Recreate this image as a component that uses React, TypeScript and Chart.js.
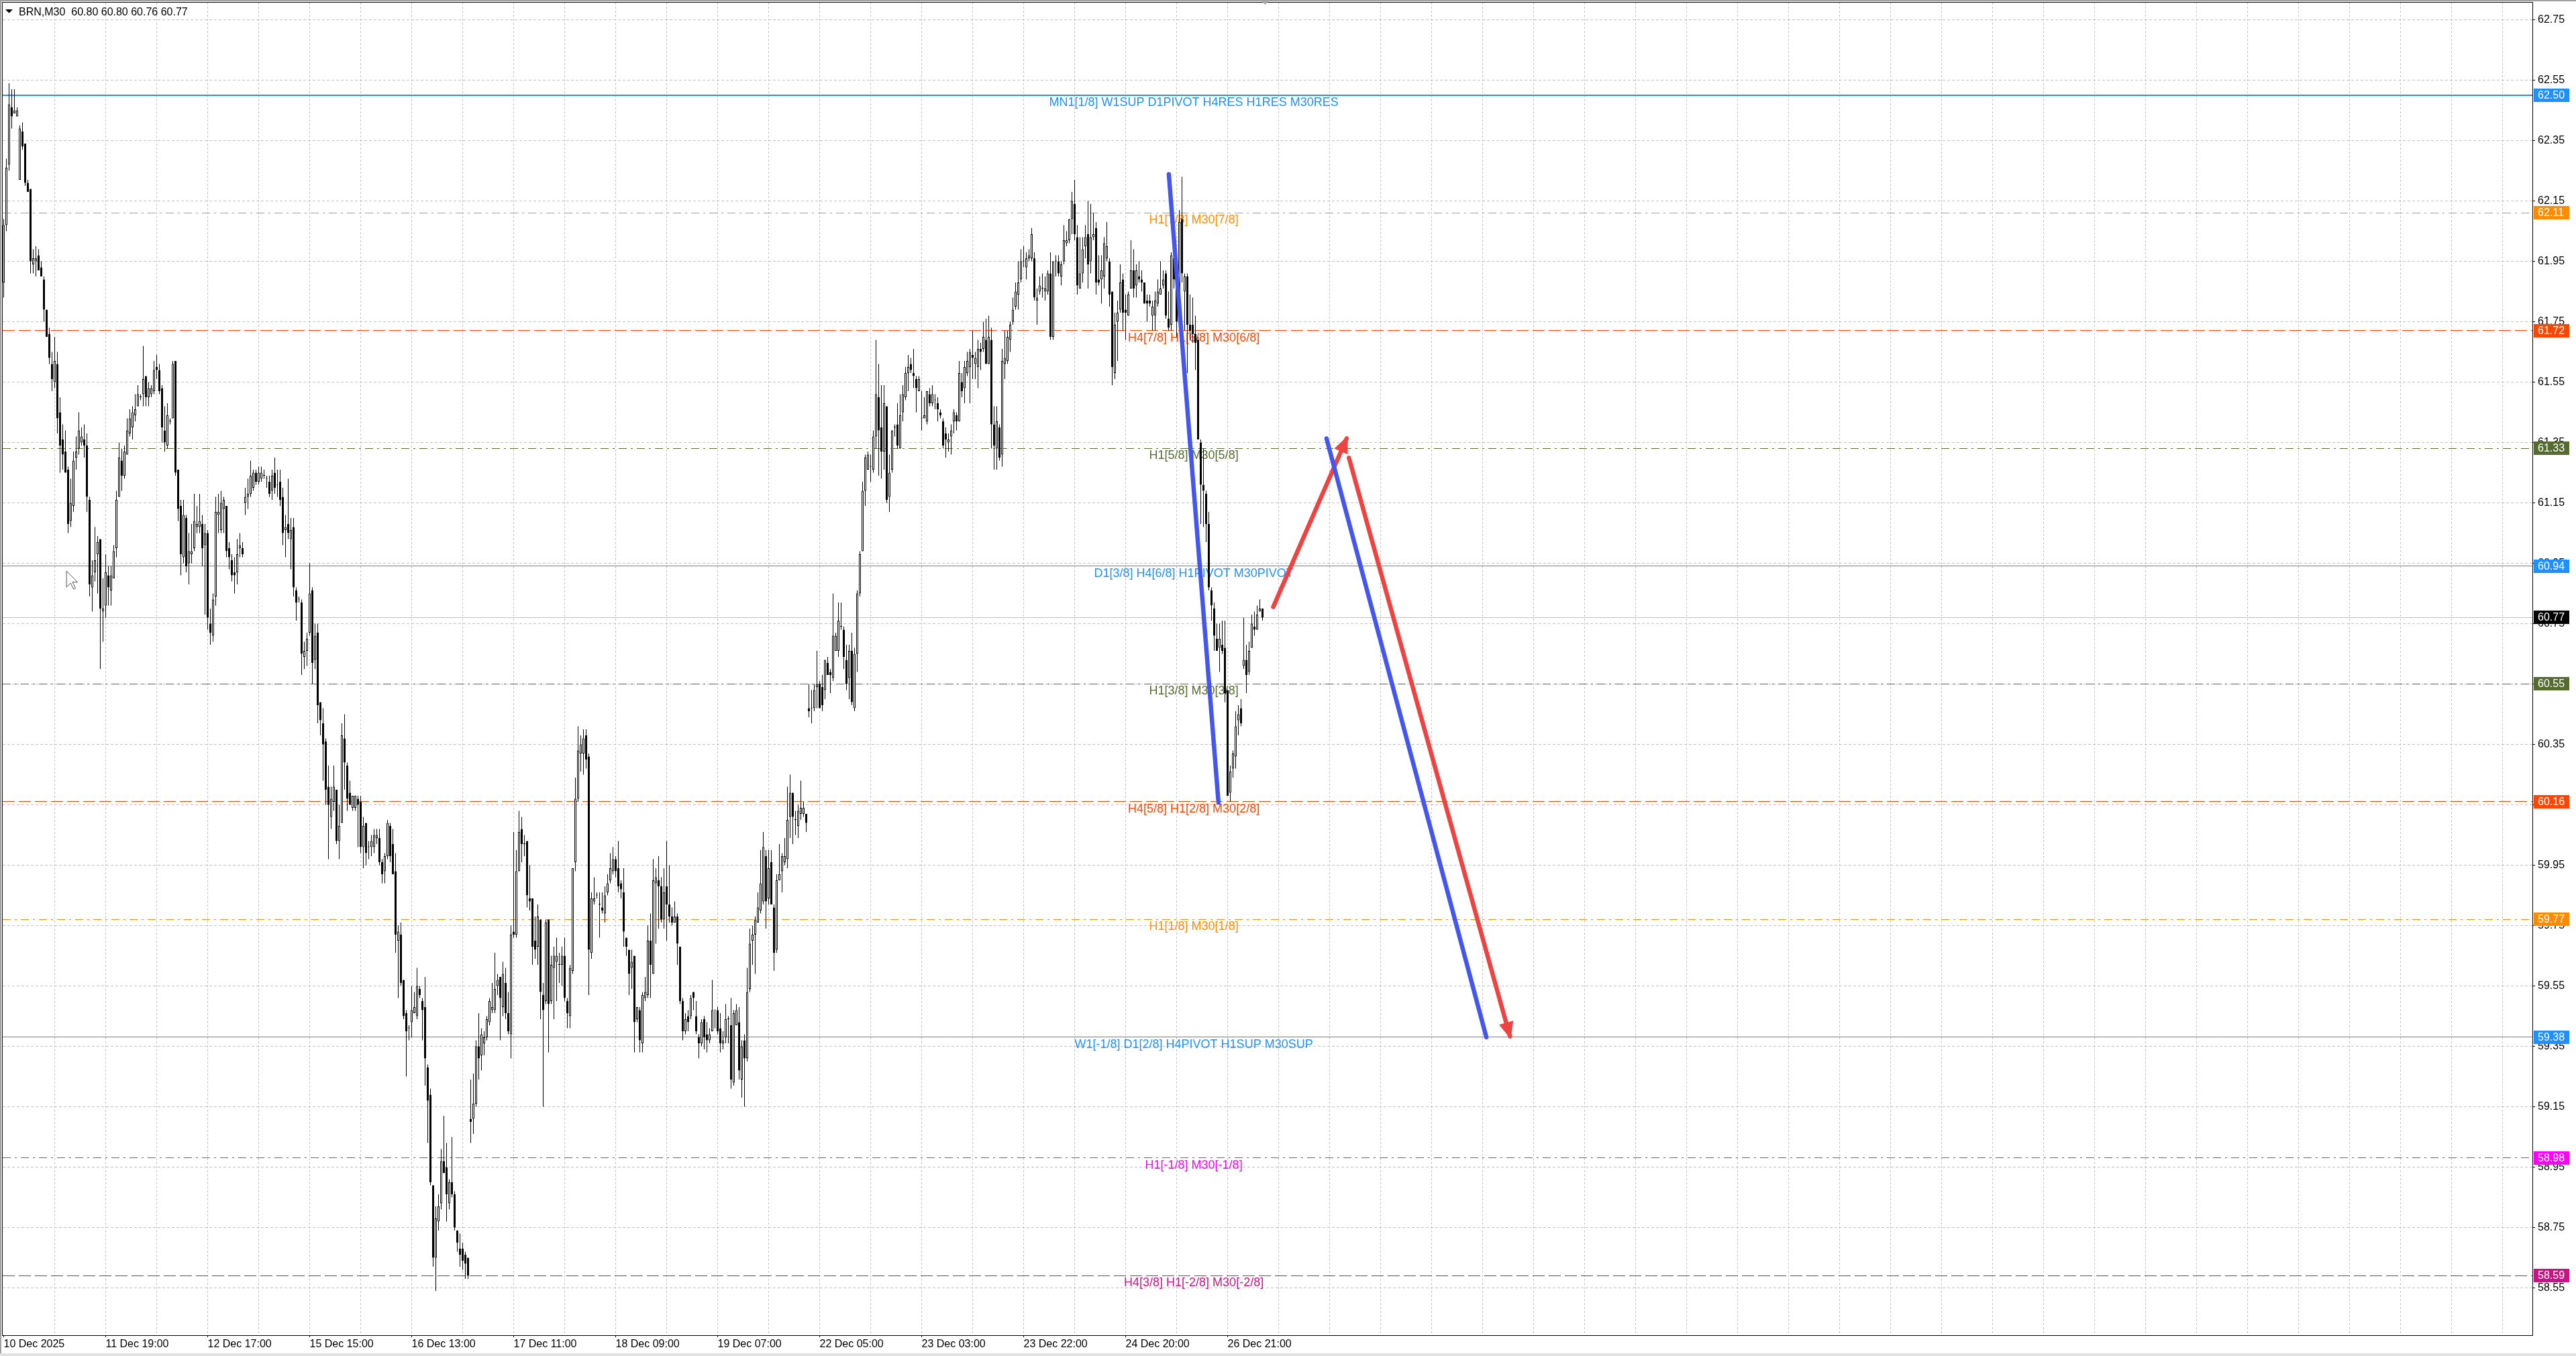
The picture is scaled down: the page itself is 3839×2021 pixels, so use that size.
import React, { useEffect, useRef } from "react";
import { Chart, registerables } from "chart.js";

Chart.register(...registerables);

const FONT = '"Liberation Sans", Arial, sans-serif';
const SYMBOL = "BRN,M30";

const OPEN = [
61.88,62.07,62.27,62.46,62.44,62.43,62.22,62.38,62.34,62.21,
62.19,61.94,61.95,61.97,61.93,61.89,61.79,61.71,61.61,61.55,
61.61,61.45,61.36,61.32,61.26,61.09,61.14,61.30,61.33,61.35,
61.36,61.34,61.16,60.87,60.92,60.98,61.03,60.79,60.81,60.91,
60.86,60.90,61.00,61.17,61.29,61.24,61.31,61.38,61.40,61.44,
61.47,61.50,61.51,61.57,61.50,61.51,61.52,61.60,61.59,61.53,
61.39,61.34,61.42,61.43,61.62,61.26,61.14,60.97,61.10,60.95,
60.98,61.00,61.07,61.07,61.08,61.01,61.05,60.75,60.71,60.84,
61.11,61.06,61.13,61.14,61.00,60.96,60.92,60.92,61.00,61.00,
61.15,61.17,61.18,61.20,61.25,61.22,61.23,61.24,61.23,61.22,
61.19,61.25,61.21,61.22,61.17,61.06,61.08,61.03,61.07,60.86,
60.83,60.82,60.64,60.66,60.72,60.86,60.63,60.72,60.49,60.42,
60.36,60.21,60.11,60.16,60.20,60.03,60.09,60.37,60.28,60.19,
60.14,60.14,60.17,60.16,60.01,60.09,60.01,60.01,60.01,60.04,
60.04,59.96,59.93,59.98,60.08,60.02,59.93,59.70,59.72,59.57,
59.46,59.41,59.43,59.46,59.45,59.54,59.50,59.48,59.28,59.19,
58.89,58.65,58.77,58.83,58.97,58.95,58.83,58.90,58.86,58.74,
58.68,58.68,58.66,58.65,59.11,59.11,59.16,59.35,59.32,59.36,
59.38,59.43,59.47,59.47,59.55,59.58,59.48,59.56,59.46,59.39,
59.73,59.72,59.93,60.07,60.02,60.03,59.84,59.84,59.70,59.68,
59.77,59.52,59.50,59.77,59.50,59.61,59.63,59.62,59.62,59.65,
59.50,59.45,59.60,59.96,60.17,60.32,60.32,60.38,60.31,59.66,
59.83,59.85,59.82,59.81,59.79,59.86,59.90,59.93,59.97,59.94,
59.89,59.86,59.71,59.67,59.61,59.65,59.44,59.47,59.36,59.51,
59.52,59.70,59.59,59.89,59.90,59.88,59.77,59.88,59.82,59.78,
59.76,59.78,59.68,59.50,59.40,59.45,59.45,59.53,59.45,59.38,
59.36,59.44,59.39,59.37,59.40,59.47,59.47,59.41,59.36,59.38,
59.44,59.42,59.23,59.42,59.43,59.24,59.37,59.31,59.54,59.70,
59.72,59.76,59.80,59.83,59.98,59.84,59.96,59.81,59.67,59.90,
59.93,59.96,59.97,60.11,60.19,60.10,60.08,60.12,60.12,60.12,
60.47,60.47,60.47,60.54,60.55,60.54,60.53,60.62,60.59,60.57,
60.66,60.66,60.74,60.73,60.63,60.57,60.66,60.47,60.65,60.85,
60.99,61.19,61.26,61.27,61.26,61.37,61.50,61.40,61.32,61.47,
61.17,61.26,61.40,61.41,61.33,61.45,61.50,61.58,61.61,61.58,
61.56,61.52,61.43,61.43,61.42,61.51,61.48,61.49,61.48,61.45,
61.42,61.38,61.35,61.37,61.42,61.44,61.42,61.55,61.53,61.58,
61.60,61.64,61.61,61.60,61.66,61.66,61.69,61.61,61.69,61.41,
61.33,61.40,61.31,61.61,61.62,61.69,61.75,61.80,61.84,61.89,
61.95,61.93,61.96,61.96,61.96,61.82,61.85,61.86,61.85,61.85,
61.91,61.70,61.95,61.95,61.90,61.95,62.01,62.02,62.09,62.14,
62.03,61.86,61.91,62.00,62.04,61.95,62.03,62.06,61.89,61.89,
61.90,61.96,61.95,61.85,61.58,61.75,61.79,61.89,61.79,61.77,
61.86,61.92,61.87,61.90,61.89,61.88,61.82,61.82,61.77,61.77,
61.81,61.84,61.87,61.91,61.76,61.74,61.96,61.89,61.79,62.09,
61.85,61.90,61.74,61.74,61.71,61.69,61.35,61.21,61.18,61.08,
60.86,60.80,60.70,60.67,60.68,60.67,60.53,60.19,60.27,60.31,
60.43,60.47,60.61,60.63,60.59,60.67,60.74,60.73,60.79,60.80
];

const HIGH = [
62.09,62.29,62.54,62.52,62.52,62.46,62.40,62.41,62.34,62.22,
62.19,61.99,62.00,61.99,61.95,61.90,61.79,61.73,61.65,61.70,
61.65,61.50,61.41,61.39,61.27,61.23,61.32,61.37,61.45,61.40,
61.41,61.38,61.17,60.96,61.07,61.04,61.03,60.90,60.98,60.94,
60.94,61.01,61.19,61.35,61.33,61.34,61.43,61.46,61.47,61.51,
61.54,61.51,61.67,61.57,61.55,61.54,61.62,61.64,61.61,61.54,
61.47,61.48,61.43,61.62,61.62,61.26,61.16,61.16,61.11,61.05,
61.08,61.18,61.14,61.18,61.11,61.08,61.06,60.80,60.85,61.17,
61.18,61.19,61.17,61.14,61.02,60.98,60.97,61.03,61.05,61.02,
61.20,61.23,61.29,61.26,61.26,61.27,61.27,61.26,61.24,61.24,
61.26,61.30,61.26,61.26,61.20,61.11,61.23,61.10,61.10,60.87,
60.84,60.83,60.69,60.72,60.95,60.87,60.75,60.75,60.49,60.47,
60.37,60.28,60.21,60.28,60.20,60.15,60.42,60.45,60.29,60.23,
60.18,60.18,60.18,60.18,60.11,60.09,60.03,60.05,60.07,60.07,
60.07,59.97,59.99,60.10,60.09,60.07,59.99,59.75,59.76,59.57,
59.47,59.42,59.55,59.53,59.61,59.55,59.51,59.58,59.29,59.21,
58.89,58.82,58.86,59.01,59.12,59.03,58.91,59.05,58.87,58.74,
58.73,58.70,58.67,58.65,59.24,59.26,59.37,59.46,59.41,59.40,
59.45,59.51,59.56,59.66,59.59,59.58,59.63,59.61,59.53,59.75,
60.06,60.00,60.13,60.11,60.05,60.03,59.95,59.84,59.78,59.82,
59.77,59.56,59.77,59.77,59.65,59.68,59.71,59.66,59.68,59.71,
59.51,59.62,59.94,60.24,60.41,60.38,60.40,60.40,60.32,59.86,
59.91,59.86,59.86,59.86,59.88,59.92,59.99,60.01,59.98,60.03,
59.90,59.94,59.71,59.67,59.67,59.65,59.48,59.48,59.53,59.58,
59.75,59.79,59.97,59.94,59.98,59.91,59.94,60.03,59.95,59.81,
59.83,59.79,59.68,59.51,59.46,59.47,59.52,59.53,59.50,59.39,
59.44,59.45,59.43,59.41,59.57,59.47,59.48,59.46,59.40,59.49,
59.45,59.51,59.47,59.49,59.48,59.37,59.39,59.61,59.74,59.75,
59.78,59.86,60.00,60.06,60.00,60.00,60.00,59.82,59.92,60.02,
59.99,60.04,60.21,60.25,60.19,60.13,60.15,60.23,60.16,60.12,
60.55,60.53,60.55,60.66,60.56,60.58,60.63,60.64,60.60,60.85,
60.72,60.82,60.82,60.74,60.68,60.68,60.72,60.67,60.86,60.99,
61.22,61.31,61.32,61.31,61.39,61.69,61.61,61.54,61.54,61.47,
61.31,61.39,61.41,61.48,61.51,61.54,61.60,61.64,61.63,61.66,
61.57,61.57,61.52,61.50,61.52,61.53,61.54,61.51,61.50,61.46,
61.43,61.40,61.38,61.41,61.46,61.45,61.62,61.58,61.62,61.65,
61.66,61.72,61.65,61.69,61.68,61.75,61.76,61.77,61.73,61.47,
61.47,61.41,61.66,61.72,61.72,61.75,61.83,61.88,61.95,61.99,
62.00,61.98,61.99,62.06,61.98,61.86,61.90,61.91,61.90,61.92,
61.98,61.95,61.97,61.97,61.95,62.07,62.05,62.09,62.18,62.22,
62.07,62.03,62.03,62.07,62.15,62.14,62.11,62.08,61.97,61.97,
62.03,62.08,61.96,61.85,61.78,61.82,61.94,61.91,61.84,61.85,
62.02,61.99,61.94,61.95,61.92,61.88,61.84,61.84,61.82,61.85,
61.89,61.95,61.92,61.92,61.85,61.98,61.99,61.92,62.12,62.23,
61.91,61.91,61.84,61.83,61.77,61.70,61.36,61.33,61.19,61.12,
60.87,60.82,60.75,60.75,60.76,60.76,60.53,60.28,60.33,60.46,
60.48,60.50,60.77,60.68,60.69,60.78,60.79,60.81,60.83,60.80
];

const LOW = [
61.83,62.05,62.25,62.39,62.44,62.43,62.22,62.32,62.20,62.18,
61.91,61.91,61.90,61.92,61.90,61.75,61.70,61.61,61.52,61.53,
61.38,61.25,61.26,61.25,61.05,61.07,61.12,61.26,61.31,61.34,
61.30,61.12,60.84,60.79,60.89,60.85,60.60,60.69,60.77,60.81,
60.81,60.90,60.97,61.17,61.19,61.23,61.31,61.37,61.36,61.42,
61.47,61.49,61.47,61.47,61.47,61.50,61.51,61.56,61.51,61.35,
61.32,61.33,61.41,61.43,61.24,61.09,60.91,60.95,60.92,60.88,
60.95,60.99,61.05,61.05,60.94,60.78,60.73,60.68,60.69,60.81,
61.05,61.05,61.05,60.97,60.93,60.89,60.85,60.88,60.97,60.97,
61.11,61.13,61.17,61.19,61.21,61.21,61.22,61.23,61.20,61.17,
61.16,61.18,61.17,61.14,61.01,60.97,61.03,60.93,60.84,60.76,
60.82,60.58,60.60,60.61,60.71,60.55,60.60,60.42,60.38,60.23,
60.15,59.97,60.07,60.13,60.02,59.97,60.09,60.20,60.13,60.15,
60.13,60.13,60.01,59.99,59.94,59.95,59.97,59.98,59.99,60.02,
59.95,59.89,59.89,59.97,59.96,59.92,59.66,59.51,59.55,59.44,
59.25,59.37,59.38,59.46,59.44,59.51,59.37,59.22,59.03,58.89,
58.62,58.54,58.74,58.81,58.93,58.77,58.81,58.85,58.74,58.67,
58.62,58.61,58.58,58.58,59.03,59.06,59.15,59.24,59.27,59.32,
59.37,59.42,59.46,59.46,59.52,59.37,59.45,59.44,59.39,59.31,
59.71,59.71,59.93,59.96,59.98,59.81,59.80,59.62,59.64,59.62,
59.44,59.15,59.49,59.33,59.49,59.44,59.50,59.56,59.55,59.50,
59.41,59.41,59.59,59.93,60.16,60.26,60.25,60.27,59.52,59.64,
59.82,59.84,59.71,59.79,59.76,59.85,59.89,59.92,59.91,59.86,
59.84,59.68,59.65,59.52,59.54,59.33,59.43,59.33,59.33,59.50,
59.51,59.51,59.59,59.69,59.74,59.76,59.74,59.70,59.76,59.75,
59.76,59.62,59.49,59.37,59.39,59.40,59.44,59.47,59.39,59.31,
59.35,59.34,59.33,59.36,59.40,59.41,59.39,59.33,59.34,59.36,
59.36,59.21,59.22,59.42,59.24,59.18,59.15,59.30,59.53,59.62,
59.59,59.76,59.79,59.82,59.74,59.82,59.82,59.60,59.66,59.90,
59.86,59.95,59.94,60.04,60.02,60.05,60.04,60.10,60.11,60.06,
60.44,60.42,60.46,60.47,60.47,60.46,60.50,60.58,60.52,60.56,
60.66,60.64,60.73,60.60,60.53,60.50,60.48,60.46,60.59,60.84,
60.99,61.14,61.26,61.22,61.25,61.33,61.24,61.23,61.26,61.15,
61.12,61.25,61.37,61.33,61.33,61.42,61.49,61.52,61.58,61.53,
61.45,61.52,61.39,61.43,61.41,61.47,61.47,61.46,61.42,61.43,
61.33,61.30,61.32,61.31,61.38,61.39,61.42,61.50,61.48,61.57,
61.48,61.56,61.56,61.53,61.59,61.65,61.61,61.61,61.33,61.26,
61.26,61.29,61.27,61.56,61.61,61.65,61.74,61.79,61.79,61.88,
61.93,61.89,61.95,61.95,61.82,61.74,61.84,61.83,61.82,61.84,
61.69,61.69,61.90,61.90,61.87,61.94,62.00,62.01,62.04,62.02,
61.84,61.86,61.88,61.96,61.86,61.91,62.02,61.84,61.87,61.81,
61.86,61.95,61.80,61.54,61.56,61.62,61.78,61.72,61.69,61.77,
61.86,61.83,61.83,61.88,61.85,61.81,61.75,61.80,61.72,61.72,
61.80,61.84,61.86,61.76,61.72,61.72,61.86,61.70,61.78,61.88,
61.72,61.58,61.69,61.68,61.59,61.36,61.08,61.07,61.02,60.86,
60.76,60.66,60.66,60.59,60.65,60.49,60.18,60.16,60.24,60.27,
60.38,60.41,60.60,60.52,60.58,60.67,60.71,60.73,60.79,60.76
];

const CLOSE = [
62.07,62.26,62.47,62.43,62.45,62.45,62.39,62.33,62.21,62.18,
61.95,61.96,61.96,61.92,61.90,61.79,61.70,61.63,61.56,61.62,
61.43,61.34,61.31,61.25,61.08,61.15,61.29,61.32,61.39,61.37,
61.34,61.17,60.88,60.91,60.96,61.02,60.80,60.80,60.92,60.87,
60.91,60.99,61.16,61.30,61.24,61.32,61.39,61.43,61.45,61.46,
61.51,61.50,61.56,61.50,61.53,61.53,61.59,61.59,61.52,61.40,
61.35,61.44,61.42,61.61,61.25,61.13,60.98,61.11,60.94,60.99,
60.99,61.09,61.08,61.09,61.00,61.05,60.77,60.72,60.83,61.12,
61.12,61.15,61.16,60.99,60.97,60.91,60.91,60.98,61.01,60.98,
61.17,61.18,61.24,61.25,61.22,61.25,61.25,61.24,61.23,61.18,
61.24,61.20,61.21,61.16,61.05,61.07,61.05,61.06,60.87,60.82,
60.83,60.65,60.66,60.70,60.85,60.62,60.71,60.48,60.43,60.35,
60.20,60.15,60.17,60.21,60.03,60.08,60.38,60.29,60.17,60.15,
60.18,60.18,60.15,60.01,60.08,59.99,60.01,60.03,60.05,60.05,
59.96,59.92,59.98,60.09,59.98,59.92,59.72,59.73,59.56,59.45,
59.40,59.41,59.47,59.48,59.55,59.52,59.47,59.31,59.17,58.90,
58.65,58.78,58.82,58.97,58.93,58.86,58.90,58.86,58.75,58.70,
58.66,58.64,58.63,58.59,59.10,59.16,59.35,59.31,59.39,59.38,
59.44,59.50,59.48,59.54,59.57,59.51,59.59,59.46,59.40,59.72,
59.72,59.93,60.06,60.02,60.02,59.85,59.83,59.68,59.67,59.78,
59.53,59.47,59.76,59.49,59.62,59.65,59.65,59.62,59.65,59.51,
59.46,59.61,59.94,60.17,60.33,60.35,60.37,60.30,59.67,59.84,
59.84,59.85,59.82,59.80,59.85,59.89,59.94,59.97,59.93,59.88,
59.87,59.73,59.68,59.59,59.63,59.43,59.48,59.37,59.52,59.53,
59.70,59.62,59.90,59.91,59.88,59.77,59.86,59.82,59.78,59.76,
59.78,59.69,59.50,59.40,59.44,59.43,59.51,59.51,59.40,59.36,
59.43,59.38,59.37,59.39,59.47,59.47,59.40,59.36,59.37,59.44,
59.44,59.24,59.46,59.47,59.27,59.35,59.31,59.53,59.69,59.72,
59.77,59.81,59.89,60.01,59.83,59.94,59.82,59.66,59.90,59.92,
59.98,59.98,60.10,60.19,60.11,60.10,60.13,60.14,60.14,60.09,
60.46,60.47,60.53,60.55,60.47,60.48,60.63,60.58,60.58,60.71,
60.71,60.76,60.74,60.64,60.55,60.66,60.49,60.65,60.85,60.98,
61.19,61.30,61.31,61.27,61.37,61.51,61.39,61.32,61.48,61.16,
61.25,61.39,61.40,61.34,61.44,61.51,61.58,61.60,61.59,61.57,
61.53,61.56,61.43,61.44,61.52,61.48,61.51,61.49,61.46,61.44,
61.34,61.36,61.36,61.39,61.45,61.42,61.58,61.52,61.60,61.62,
61.65,61.63,61.63,61.66,61.65,61.70,61.61,61.70,61.41,61.34,
61.42,61.30,61.62,61.63,61.70,61.74,61.79,61.85,61.88,61.95,
61.95,61.96,61.97,62.04,61.83,61.83,61.87,61.86,61.86,61.91,
61.70,61.95,61.95,61.91,61.94,62.02,62.02,62.09,62.15,62.04,
61.87,61.91,61.99,62.03,61.94,62.03,62.04,61.88,61.88,61.92,
62.01,62.00,61.84,61.60,61.74,61.78,61.88,61.78,61.78,61.84,
61.92,61.86,61.92,61.89,61.88,61.81,61.81,61.81,61.80,61.82,
61.85,61.86,61.89,61.77,61.73,61.97,61.89,61.75,62.08,61.91,
61.90,61.74,61.72,61.71,61.68,61.36,61.21,61.19,61.08,60.87,
60.81,60.71,60.66,60.70,60.66,60.52,60.18,60.26,60.32,60.41,
60.45,60.42,60.63,60.58,60.66,60.75,60.73,60.78,60.80,60.77
];

const DATE_LABELS = [
  "10 Dec 2025", "11 Dec 19:00", "12 Dec 17:00", "15 Dec 15:00", "16 Dec 13:00",
  "17 Dec 11:00", "18 Dec 09:00", "19 Dec 07:00", "22 Dec 05:00", "23 Dec 03:00",
  "23 Dec 22:00", "24 Dec 20:00", "26 Dec 21:00",
];
const LABEL_STEP = 38;
const GRID_STEP = 19;

const PRICE_TICKS = [
  62.75, 62.55, 62.35, 62.15, 61.95, 61.75, 61.55, 61.35, 61.15, 60.95, 60.75,
  60.55, 60.35, 60.15, 59.95, 59.75, 59.55, 59.35, 59.15, 58.95, 58.75, 58.55,
];

const X_MIN = -0.375;
const X_MAX = 942.125;
const Y_MIN = 58.3931;
const Y_MAX = 62.8064;

const LEVEL_PRICES = [62.5, 62.11, 61.72, 61.33, 60.94, 60.55, 60.16, 59.77, 59.38, 58.98, 58.59];
const LEVEL_TEXTS = [
  "MN1[1/8] W1SUP D1PIVOT H4RES H1RES M30RES",
  "H1[7/8] M30[7/8]",
  "H4[7/8] H1[6/8] M30[6/8]",
  "H1[5/8] M30[5/8]",
  "D1[3/8] H4[6/8] H1PIVOT M30PIVOT",
  "H1[3/8] M30[3/8]",
  "H4[5/8] H1[2/8] M30[2/8]",
  "H1[1/8] M30[1/8]",
  "W1[-1/8] D1[2/8] H4PIVOT H1SUP M30SUP",
  "H1[-1/8] M30[-1/8]",
  "H4[3/8] H1[-2/8] M30[-2/8]",
];
const LEVEL_COLORS = [
  "#1E90FF", "#FF8C00", "#FF4500", "#556B2F", "#1E90FF", "#556B2F",
  "#FF4500", "#FF8C00", "#1E90FF", "#FF00FF", "#C71585",
];
const LEVEL_DASHES = [
  [], [12, 6, 3, 6], [18, 6], [12, 6, 3, 6], [], [12, 6, 3, 6],
  [18, 6], [12, 6, 3, 6], [], [12, 6, 3, 6], [18, 6],
];
const LEVEL_WIDTHS = [2, 1, 1, 1, 1, 1, 1, 1, 1, 1, 1];
const LEVEL_LABEL_X = 443.4;

const CURRENT_PRICE = 60.77;

const BLUE_LEG_1 = [{ x: 434.1, y: 62.238 }, { x: 452.6, y: 60.157 }];
const BLUE_LEG_2 = [{ x: 492.85, y: 61.363 }, { x: 552.4, y: 59.38 }];
const RED_LEG_1 = [{ x: 473.0, y: 60.805 }, { x: 500.35, y: 61.363 }];
const RED_LEG_2 = [{ x: 501.2, y: 61.299 }, { x: 561.2, y: 59.383 }];
const BLUE = "#4356F0";
const RED = "#EE4340";

const CURSOR_AT = { x: 23.4, y: 60.924 };
const SHIFT_MARK_X = 470;

const GRID_COLOR = "#c2c2c2";

export default function App() {
  const ref = useRef<HTMLCanvasElement | null>(null);

  useEffect(() => {
    const canvas = ref.current;
    if (!canvas) return;
    const n = CLOSE.length;
    const idx = Array.from({ length: n }, (_, i) => i);
    const gridTicks: number[] = [];
    for (let v = 0; v <= X_MAX; v += GRID_STEP) gridTicks.push(v);
    const isLabelTick = (v: number) =>
      v % LABEL_STEP === 0 && v / LABEL_STEP < DATE_LABELS.length;

    const fmt = (v: number) => v.toFixed(2);

    const levelSets = LEVEL_PRICES.map((p, i) => ({
      type: "line" as const,
      data: [{ x: X_MIN, y: p }, { x: X_MAX, y: p }],
      borderColor: LEVEL_COLORS[i],
      borderWidth: LEVEL_WIDTHS[i],
      borderDash: LEVEL_DASHES[i],
      pointRadius: 0,
      fill: false,
      tension: 0,
      order: 20,
      snapY: p,
    }));

    const legSet = (pts: { x: number; y: number }[], color: string, order: number) => ({
      type: "line" as const,
      data: pts,
      borderColor: color,
      borderWidth: 6.5,
      borderCapStyle: "round" as const,
      pointRadius: 0,
      fill: false,
      tension: 0,
      order,
    });

    const drawHead = (ctx: CanvasRenderingContext2D, x0: number, y0: number, x1: number, y1: number, color: string) => {
      const a = Math.atan2(y1 - y0, x1 - x0);
      const c = Math.cos(a), s = Math.sin(a);
      const tx = x1 + c * 4, ty = y1 + s * 4;
      const L = 25, W = 11;
      ctx.beginPath();
      ctx.moveTo(tx, ty);
      ctx.lineTo(tx - L * c + W * s, ty - L * s - W * c);
      ctx.lineTo(tx - L * c - W * s, ty - L * s + W * c);
      ctx.closePath();
      ctx.fillStyle = color;
      ctx.fill();
    };

    const decor = {
      id: "decor",
      beforeDraw(chart: any) {
        const { ctx, width, height } = chart;
        ctx.save();
        ctx.fillStyle = "#ffffff";
        ctx.fillRect(0, 0, width, height);
        ctx.restore();
      },
      beforeDatasetDraw(chart: any, args: any) {
        const ds: any = chart.data.datasets[args.index];
        if (ds && ds.snapY !== undefined) {
          const y = chart.scales.y.getPixelForValue(ds.snapY);
          const w = ds.borderWidth || 1;
          const target = w % 2 === 1 ? Math.floor(y) + 0.5 : Math.round(y);
          chart.ctx.save();
          chart.ctx.translate(0, target - y);
        }
      },
      afterDatasetDraw(chart: any, args: any) {
        const ds: any = chart.data.datasets[args.index];
        if (ds && ds.snapY !== undefined) chart.ctx.restore();
      },
      beforeDatasetsDraw(chart: any) {
        const { ctx, scales } = chart;
        const x = scales.x.getPixelForValue(LEVEL_LABEL_X);
        ctx.save();
        ctx.font = `18px ${FONT}`;
        ctx.textAlign = "center";
        ctx.textBaseline = "alphabetic";
        LEVEL_PRICES.forEach((p, i) => {
          const y = Math.round(scales.y.getPixelForValue(p));
          ctx.fillStyle = LEVEL_COLORS[i];
          ctx.fillText(LEVEL_TEXTS[i], x, y + 16);
        });
        ctx.restore();
      },
      afterDatasetsDraw(chart: any) {
        const { ctx, scales } = chart;
        const px = (p: { x: number; y: number }) => [scales.x.getPixelForValue(p.x), scales.y.getPixelForValue(p.y)];
        ctx.save();
        const [a0, a1] = px(RED_LEG_1[0]);
        const [b0, b1] = px(RED_LEG_1[1]);
        drawHead(ctx, a0, a1, b0, b1, RED);
        const [c0, c1] = px(RED_LEG_2[0]);
        const [d0, d1] = px(RED_LEG_2[1]);
        drawHead(ctx, c0, c1, d0, d1, RED);
        ctx.restore();
      },
      afterDraw(chart: any) {
        const { ctx, chartArea, scales, width, height } = chart;
        const { left, top, right, bottom } = chartArea;
        ctx.save();
        ctx.fillStyle = "#a0a0a0";
        ctx.fillRect(0, 0, width, 2);
        ctx.fillRect(0, 0, 2, height);
        ctx.fillStyle = "#e2e2e2";
        ctx.fillRect(0, height - 4, width, 4);
        ctx.strokeStyle = "#000";
        ctx.lineWidth = 1;
        ctx.strokeRect(left - 0.5, top - 0.5, right - left + 1, bottom - top + 1);

        ctx.font = `16px ${FONT}`;
        ctx.textAlign = "left";
        ctx.textBaseline = "middle";
        const box = (p: number, color: string) => {
          const y = Math.round(scales.y.getPixelForValue(p));
          ctx.fillStyle = color;
          ctx.fillRect(right + 2, y - 10, 53, 20);
          ctx.fillStyle = "#ffffff";
          ctx.fillText(fmt(p), right + 8, y + 1);
        };
        LEVEL_PRICES.forEach((p, i) => box(p, LEVEL_COLORS[i]));
        box(CURRENT_PRICE, "#000000");

        const last = n - 1;
        ctx.fillStyle = "#000";
        ctx.beginPath();
        ctx.moveTo(8, 14);
        ctx.lineTo(19, 14);
        ctx.lineTo(13.5, 19.5);
        ctx.closePath();
        ctx.fill();
        ctx.textBaseline = "alphabetic";
        ctx.fillText(
          `${SYMBOL}  ${fmt(OPEN[last])} ${fmt(HIGH[last])} ${fmt(LOW[last])} ${fmt(CLOSE[last])}`,
          28,
          23
        );

        const sx = scales.x.getPixelForValue(SHIFT_MARK_X);
        ctx.fillStyle = "#a8a8a8";
        ctx.beginPath();
        ctx.moveTo(sx - 6, 1);
        ctx.lineTo(sx + 6, 1);
        ctx.lineTo(sx, 7);
        ctx.closePath();
        ctx.fill();

        const cx = scales.x.getPixelForValue(CURSOR_AT.x);
        const cy = scales.y.getPixelForValue(CURSOR_AT.y);
        const k = 1.5;
        const pts = [[0, 0], [0, 16], [4, 12], [7, 18], [9, 17], [6, 11], [11, 11]];
        ctx.beginPath();
        pts.forEach(([a, b], i) => {
          const X = cx + a * k, Y = cy + b * k;
          if (i === 0) ctx.moveTo(X, Y);
          else ctx.lineTo(X, Y);
        });
        ctx.closePath();
        ctx.fillStyle = "#ffffff";
        ctx.fill();
        ctx.strokeStyle = "#555";
        ctx.lineWidth = 1;
        ctx.stroke();
        ctx.restore();
      },
    };

    const chart = new Chart(canvas, {
      type: "bar",
      data: {
        datasets: [
          ...levelSets,
          {
            type: "line",
            data: [{ x: X_MIN, y: CURRENT_PRICE }, { x: X_MAX, y: CURRENT_PRICE }],
            borderColor: "#c0c0c0",
            borderWidth: 1,
            pointRadius: 0,
            fill: false,
            order: 19,
            snapY: CURRENT_PRICE,
          } as any,
          {
            type: "bar",
            data: idx.map((i) => ({ x: i, y: [LOW[i], HIGH[i]] })),
            backgroundColor: "#000000",
            borderWidth: 0,
            barThickness: 1,
            minBarLength: 1,
            grouped: false,
            inflateAmount: 0,
            order: 5,
          } as any,
          {
            type: "bar",
            data: idx.map((i) => ({ x: i, y: [OPEN[i], CLOSE[i]] })),
            backgroundColor: idx.map((i) => (CLOSE[i] >= OPEN[i] ? "#ffffff" : "#000000")),
            borderColor: "#000000",
            borderWidth: 1,
            borderSkipped: false,
            barThickness: 3,
            minBarLength: 1,
            grouped: false,
            inflateAmount: 0,
            order: 4,
          } as any,
          legSet(RED_LEG_1, RED, 2),
          legSet(RED_LEG_2, RED, 2),
          legSet(BLUE_LEG_1, BLUE, 1),
          legSet(BLUE_LEG_2, BLUE, 1),
        ] as any,
      },
      options: {
        animation: false,
        responsive: true,
        maintainAspectRatio: false,
        events: [],
        layout: { padding: { left: 4, top: 4, right: 0, bottom: 0 } },
        plugins: { legend: { display: false }, tooltip: { enabled: false } },
        scales: {
          x: {
            type: "linear",
            position: "bottom",
            min: X_MIN,
            max: X_MAX,
            offset: false,
            afterBuildTicks: (s: any) => {
              s.ticks = gridTicks.map((v) => ({ value: v }));
            },
            afterFit: (s: any) => {
              s.height = 31;
              s.paddingLeft = 0;
              s.paddingRight = 0;
              s.paddingTop = 0;
              s.paddingBottom = 0;
            },
            grid: {
              offset: false,
              lineWidth: 1,
              color: (c: any) => (c.tick && c.tick.value === 0 ? "rgba(0,0,0,0)" : GRID_COLOR),
              drawTicks: true,
              tickLength: 3,
              tickColor: (c: any) => (c.tick && isLabelTick(c.tick.value) ? "#000000" : "rgba(0,0,0,0)"),
            },
            border: { display: false, dash: [3, 3] },
            ticks: {
              autoSkip: false,
              maxRotation: 0,
              minRotation: 0,
              align: "start",
              padding: 1,
              color: "#000000",
              font: { family: FONT, size: 16 },
              callback: (v: any) => {
                const num = Number(v);
                return isLabelTick(num) ? DATE_LABELS[num / LABEL_STEP] : "";
              },
            },
          } as any,
          y: {
            type: "linear",
            position: "right",
            min: Y_MIN,
            max: Y_MAX,
            afterBuildTicks: (s: any) => {
              s.ticks = PRICE_TICKS.map((v) => ({ value: v }));
            },
            afterFit: (s: any) => {
              s.width = 65;
              s.paddingLeft = 0;
              s.paddingRight = 0;
              s.paddingTop = 0;
              s.paddingBottom = 0;
            },
            grid: {
              color: GRID_COLOR,
              lineWidth: 1,
              drawTicks: true,
              tickLength: 4,
              tickColor: "#000000",
            },
            border: { display: false, dash: [4, 3] },
            ticks: {
              autoSkip: false,
              padding: 4,
              color: "#000000",
              font: { family: FONT, size: 16 },
              callback: (v: any) => Number(v).toFixed(2),
            },
          } as any,
        },
      },
      plugins: [decor],
    } as any);

    return () => chart.destroy();
  }, []);

  return (
    <div style={{ position: "fixed", left: 0, top: 0, width: "3839px", height: "2021px", background: "#ffffff" }}>
      <canvas ref={ref} />
    </div>
  );
}
